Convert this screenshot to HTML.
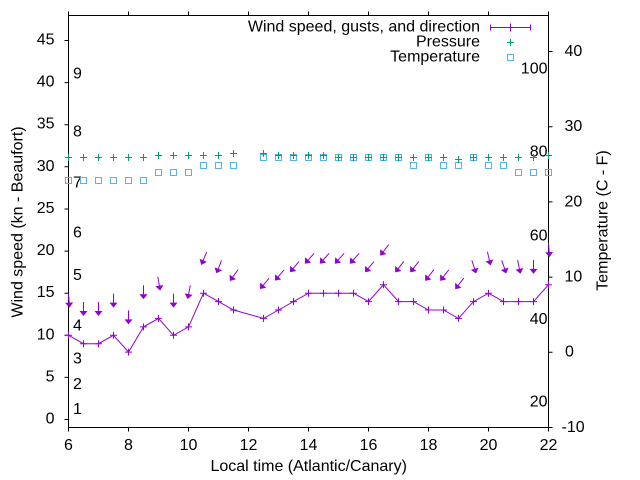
<!DOCTYPE html>
<html>
<head>
<meta charset="utf-8">
<style>
html,body{margin:0;padding:0;background:#fff;}
svg{display:block;}
text{font-family:"Liberation Sans",Arial,sans-serif;font-size:16px;fill:#000;}
</style>
</head>
<body>
<svg width="640" height="480" viewBox="0 0 640 480" xmlns="http://www.w3.org/2000/svg">
<defs>
<path id="pl" d="M-3.5,0H3.5M0,-3.5V3.5"/>
<g id="ar"><path d="M0,-7V4" fill="none"/><polygon points="0,7 -4,2 4,2" stroke="none"/></g>
</defs>
<rect width="640" height="480" fill="#fff"/>

<!-- border -->
<g stroke="#000" stroke-width="1" fill="none">
<path d="M68.5,15.5H548.5V427.5H68.5Z"/>
<!-- left ticks -->
<path d="M64.5,419.5H68.5M64.5,377.4H68.5M64.5,335.3H68.5M64.5,293.2H68.5M64.5,251.1H68.5M64.5,209.0H68.5M64.5,166.8H68.5M64.5,124.7H68.5M64.5,82.6H68.5M64.5,40.5H68.5"/>
<!-- bottom ticks -->
<path d="M68.5,427.5V431.5M128.5,427.5V431.5M188.5,427.5V431.5M248.5,427.5V431.5M308.5,427.5V431.5M368.5,427.5V431.5M428.5,427.5V431.5M488.5,427.5V431.5M548.5,427.5V431.5"/>
<!-- top ticks -->
<path d="M68.5,11.5V15.5M128.5,11.5V15.5M188.5,11.5V15.5M248.5,11.5V15.5M308.5,11.5V15.5M368.5,11.5V15.5M428.5,11.5V15.5M488.5,11.5V15.5M548.5,11.5V15.5"/>
<!-- right ticks -->
<path d="M548.5,427.5H552.5M548.5,352.3H552.5M548.5,277.1H552.5M548.5,201.9H552.5M548.5,126.7H552.5M548.5,51.5H552.5"/>
</g>

<!-- left tick labels -->
<g text-anchor="end">
<text x="54.5" y="423.5">0</text>
<text x="54.5" y="381.4">5</text>
<text x="54.5" y="339.3">10</text>
<text x="54.5" y="297.2">15</text>
<text x="54.5" y="255.1">20</text>
<text x="54.5" y="213.0">25</text>
<text x="54.5" y="170.8">30</text>
<text x="54.5" y="128.7">35</text>
<text x="54.5" y="86.6">40</text>
<text x="54.5" y="44.5">45</text>
</g>
<!-- bottom tick labels -->
<g text-anchor="middle">
<text x="68.5" y="450">6</text>
<text x="128.5" y="450">8</text>
<text x="188.5" y="450">10</text>
<text x="248.5" y="450">12</text>
<text x="308.5" y="450">14</text>
<text x="368.5" y="450">16</text>
<text x="428.5" y="450">18</text>
<text x="488.5" y="450">20</text>
<text x="548.5" y="450">22</text>
</g>
<!-- right tick labels (C) -->
<text x="564.5" y="56">40</text>
<text x="564.5" y="131">30</text>
<text x="564.5" y="206.3">20</text>
<text x="564.5" y="281.5">10</text>
<text x="565" y="356.7">0</text>
<text x="561.5" y="431.8">-10</text>
<!-- Fahrenheit labels -->
<g text-anchor="end">
<text x="547.5" y="73.5">100</text>
<text x="547.5" y="156.3">80</text>
<text x="547.5" y="240.5">60</text>
<text x="547.5" y="324">40</text>
<text x="547.5" y="406.7">20</text>
</g>
<!-- Beaufort labels -->
<text x="73" y="414">1</text>
<text x="73" y="389">2</text>
<text x="73" y="363.5">3</text>
<text x="73" y="330.3">4</text>
<text x="73" y="280">5</text>
<text x="73" y="237.7">6</text>
<text x="73" y="187.7">7</text>
<text x="73" y="136.7">8</text>
<text x="73" y="78.3">9</text>

<!-- axis labels -->
<text x="308.7" y="471" text-anchor="middle">Local time (Atlantic/Canary)</text>
<text transform="translate(22.5,222) rotate(-90)" text-anchor="middle">Wind speed (kn - Beaufort)</text>
<text transform="translate(607.5,220.5) rotate(-90)" text-anchor="middle">Temperature (C - F)</text>

<!-- legend -->
<g text-anchor="end">
<text x="480" y="31.3">Wind speed, gusts, and direction</text>
<text x="480" y="46.5">Pressure</text>
<text x="480" y="61.5">Temperature</text>
</g>
<g stroke="#9400d3" stroke-width="1" fill="none">
<path d="M490.5,27.5H530.5M490.5,24.5V30.5M530.5,24.5V30.5M510.5,23.5V31.5"/>
</g>
<use href="#pl" x="510.5" y="42.5" stroke="#009e73" stroke-width="1"/>
<rect x="507.5" y="54.5" width="6" height="6" fill="none" stroke="#56b4e9" stroke-width="1"/>

<!-- temperature squares -->
<g fill="none" stroke="#56b4e9" stroke-width="1">
<rect x="65.5" y="177.5" width="6" height="6"/>
<rect x="80.5" y="177.5" width="6" height="6"/>
<rect x="95.5" y="177.5" width="6" height="6"/>
<rect x="110.5" y="177.5" width="6" height="6"/>
<rect x="125.5" y="177.5" width="6" height="6"/>
<rect x="140.5" y="177.5" width="6" height="6"/>
<rect x="155.5" y="169.5" width="6" height="6"/>
<rect x="170.5" y="169.5" width="6" height="6"/>
<rect x="185.5" y="169.5" width="6" height="6"/>
<rect x="200.5" y="162.5" width="6" height="6"/>
<rect x="215.5" y="162.5" width="6" height="6"/>
<rect x="230.5" y="162.5" width="6" height="6"/>
<rect x="260.5" y="154.5" width="6" height="6"/>
<rect x="275.5" y="154.5" width="6" height="6"/>
<rect x="290.5" y="154.5" width="6" height="6"/>
<rect x="305.5" y="154.5" width="6" height="6"/>
<rect x="320.5" y="154.5" width="6" height="6"/>
<rect x="335.5" y="154.5" width="6" height="6"/>
<rect x="350.5" y="154.5" width="6" height="6"/>
<rect x="365.5" y="154.5" width="6" height="6"/>
<rect x="380.5" y="154.5" width="6" height="6"/>
<rect x="395.5" y="154.5" width="6" height="6"/>
<rect x="410.5" y="162.5" width="6" height="6"/>
<rect x="425.5" y="154.5" width="6" height="6"/>
<rect x="440.5" y="162.5" width="6" height="6"/>
<rect x="455.5" y="162.5" width="6" height="6"/>
<rect x="470.5" y="154.5" width="6" height="6"/>
<rect x="485.5" y="162.5" width="6" height="6"/>
<rect x="500.5" y="162.5" width="6" height="6"/>
<rect x="515.5" y="169.5" width="6" height="6"/>
<rect x="530.5" y="169.5" width="6" height="6"/>
<rect x="545.5" y="169.5" width="6" height="6"/>
</g>

<!-- pressure plus -->
<g stroke="#009e73" stroke-width="1">
<use href="#pl" x="68.5" y="157.5"/>
<use href="#pl" x="83.5" y="157.5"/>
<use href="#pl" x="98.5" y="157.5"/>
<use href="#pl" x="113.5" y="157.5"/>
<use href="#pl" x="128.5" y="157.5"/>
<use href="#pl" x="143.5" y="157.5"/>
<use href="#pl" x="158.5" y="155.5"/>
<use href="#pl" x="173.5" y="155.5"/>
<use href="#pl" x="188.5" y="155.5"/>
<use href="#pl" x="203.5" y="155.5"/>
<use href="#pl" x="218.5" y="155.5"/>
<use href="#pl" x="233.5" y="153.5"/>
<use href="#pl" x="263.5" y="153.5"/>
<use href="#pl" x="278.5" y="155.5"/>
<use href="#pl" x="293.5" y="155.5"/>
<use href="#pl" x="308.5" y="155.5"/>
<use href="#pl" x="323.5" y="155.5"/>
<use href="#pl" x="338.5" y="157.5"/>
<use href="#pl" x="353.5" y="157.5"/>
<use href="#pl" x="368.5" y="157.5"/>
<use href="#pl" x="383.5" y="157.5"/>
<use href="#pl" x="398.5" y="157.5"/>
<use href="#pl" x="413.5" y="157.5"/>
<use href="#pl" x="428.5" y="157.5"/>
<use href="#pl" x="443.5" y="157.5"/>
<use href="#pl" x="458.5" y="159.5"/>
<use href="#pl" x="473.5" y="157.5"/>
<use href="#pl" x="488.5" y="157.5"/>
<use href="#pl" x="503.5" y="157.5"/>
<use href="#pl" x="518.5" y="157.5"/>
<use href="#pl" x="533.5" y="157.5"/>
<use href="#pl" x="548.5" y="155.5"/>
</g>

<!-- wind line -->
<polyline fill="none" stroke="#9400d3" stroke-width="1" points="68.5,335.3 83.5,343.7 98.5,343.7 113.5,335.3 128.5,352.1 143.5,326.9 158.5,318.4 173.5,335.3 188.5,326.9 203.5,293.2 218.5,301.6 233.5,310.0 263.5,318.4 278.5,310.0 293.5,301.6 308.5,293.2 323.5,293.2 338.5,293.2 353.5,293.2 368.5,301.6 383.5,284.7 398.5,301.6 413.5,301.6 428.5,310.0 443.5,310.0 458.5,318.4 473.5,301.6 488.5,293.2 503.5,301.6 518.5,301.6 533.5,301.6 548.5,284.7"/>
<g stroke="#9400d3" stroke-width="1">
<use href="#pl" x="68.5" y="335.3"/>
<use href="#pl" x="83.5" y="343.7"/>
<use href="#pl" x="98.5" y="343.7"/>
<use href="#pl" x="113.5" y="335.3"/>
<use href="#pl" x="128.5" y="352.1"/>
<use href="#pl" x="143.5" y="326.9"/>
<use href="#pl" x="158.5" y="318.4"/>
<use href="#pl" x="173.5" y="335.3"/>
<use href="#pl" x="188.5" y="326.9"/>
<use href="#pl" x="203.5" y="293.2"/>
<use href="#pl" x="218.5" y="301.6"/>
<use href="#pl" x="233.5" y="310.0"/>
<use href="#pl" x="263.5" y="318.4"/>
<use href="#pl" x="278.5" y="310.0"/>
<use href="#pl" x="293.5" y="301.6"/>
<use href="#pl" x="308.5" y="293.2"/>
<use href="#pl" x="323.5" y="293.2"/>
<use href="#pl" x="338.5" y="293.2"/>
<use href="#pl" x="353.5" y="293.2"/>
<use href="#pl" x="368.5" y="301.6"/>
<use href="#pl" x="383.5" y="284.7"/>
<use href="#pl" x="398.5" y="301.6"/>
<use href="#pl" x="413.5" y="301.6"/>
<use href="#pl" x="428.5" y="310.0"/>
<use href="#pl" x="443.5" y="310.0"/>
<use href="#pl" x="458.5" y="318.4"/>
<use href="#pl" x="473.5" y="301.6"/>
<use href="#pl" x="488.5" y="293.2"/>
<use href="#pl" x="503.5" y="301.6"/>
<use href="#pl" x="518.5" y="301.6"/>
<use href="#pl" x="533.5" y="301.6"/>
<use href="#pl" x="548.5" y="284.7"/>
</g>

<!-- gust/direction arrows -->
<g stroke="#9400d3" fill="#9400d3" stroke-width="1">
<use href="#ar" transform="translate(69,300.6) rotate(-4)"/>
<use href="#ar" transform="translate(83.5,309.0)"/>
<use href="#ar" transform="translate(98.5,309.0)"/>
<use href="#ar" transform="translate(113.5,300.6)"/>
<use href="#ar" transform="translate(128.5,317.4)"/>
<use href="#ar" transform="translate(143.5,292.2)"/>
<use href="#ar" transform="translate(159,283.7) rotate(-10)"/>
<use href="#ar" transform="translate(173.5,300.6)"/>
<use href="#ar" transform="translate(189,292.2) rotate(11)"/>
<use href="#ar" transform="translate(204,258.5) rotate(23)"/>
<use href="#ar" transform="translate(219,266.9) rotate(21)"/>
<use href="#ar" transform="translate(234,275.3) rotate(36)"/>
<use href="#ar" transform="translate(264.5,283.7) rotate(40)"/>
<use href="#ar" transform="translate(279.5,275.3) rotate(40)"/>
<use href="#ar" transform="translate(294.5,266.9) rotate(40)"/>
<use href="#ar" transform="translate(309.5,258.5) rotate(42)"/>
<use href="#ar" transform="translate(324.5,258.5) rotate(42)"/>
<use href="#ar" transform="translate(339.5,258.5) rotate(42)"/>
<use href="#ar" transform="translate(354.5,258.5) rotate(42)"/>
<use href="#ar" transform="translate(369.5,266.9) rotate(40)"/>
<use href="#ar" transform="translate(384.5,250.1) rotate(38)"/>
<use href="#ar" transform="translate(399.5,266.9) rotate(38)"/>
<use href="#ar" transform="translate(414.5,266.9) rotate(38)"/>
<use href="#ar" transform="translate(429.5,275.3) rotate(38)"/>
<use href="#ar" transform="translate(444.5,275.3) rotate(38)"/>
<use href="#ar" transform="translate(459.5,283.7) rotate(38)"/>
<use href="#ar" transform="translate(474,266.9) rotate(-18)"/>
<use href="#ar" transform="translate(489,258.5) rotate(-13)"/>
<use href="#ar" transform="translate(504,266.9) rotate(-19)"/>
<use href="#ar" transform="translate(519,266.9) rotate(-12)"/>
<use href="#ar" transform="translate(533.5,266.9)"/>
<use href="#ar" transform="translate(549,250.1) rotate(-4)"/>
</g>
</svg>
</body>
</html>
